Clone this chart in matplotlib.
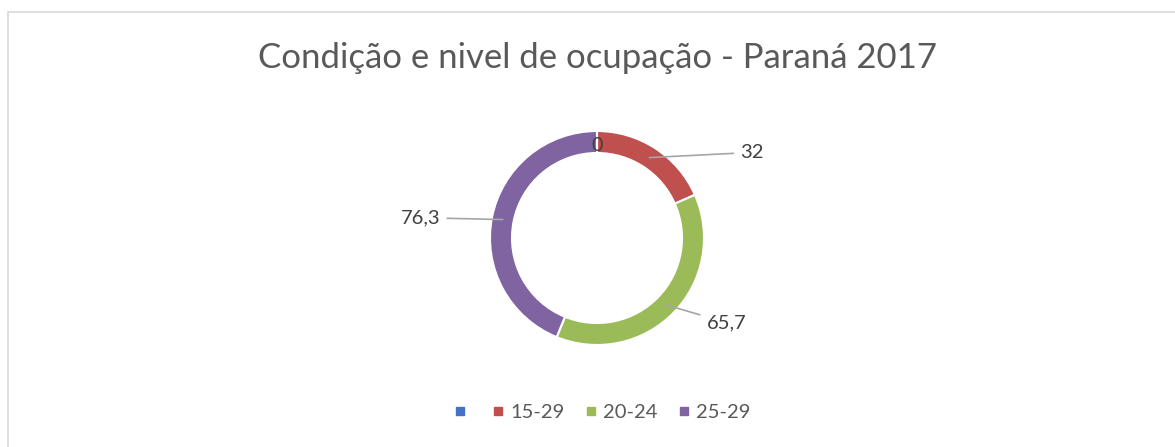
import matplotlib.pyplot as plt
import numpy as np
from matplotlib.lines import Line2D
from matplotlib.patches import Rectangle

# data
categories = ["", "15-29", "20-24", "25-29"]
values = [0, 32, 65.7, 76.3]
value_labels = ["0", "32", "65,7", "76,3"]
colors = ["#4472C4", "#C0504D", "#9BBB59", "#8064A2"]
title = "Condição e nivel de ocupação - Paraná 2017"

# label text offsets (data units, relative to ring centre), None = on the ring
label_pos = [None, (1.45, 0.80), (1.21, -0.79), (-1.65, 0.19)]

W, H = 1175, 447
fig = plt.figure(figsize=(W / 100, H / 100), dpi=100)
plt.rcParams["font.family"] = ["Lato", "DejaVu Sans"]
text_color = "#595959"

# chart frame (cropped at right/bottom)
fig.patches.append(Rectangle((8 / W, -0.1), 1.2, 1 - 12 / H + 0.1, transform=fig.transFigure,
                             fill=False, edgecolor="#d9d9d9", linewidth=1.2))

cx, cy, R = 597, H - 238, 107
ax = fig.add_axes([(cx - R) / W, (cy - R) / H, 2 * R / W, 2 * R / H])

ring = 22 / R
wedges, _ = ax.pie(values, colors=colors, startangle=90, counterclock=False, radius=1,
                   wedgeprops=dict(width=ring, edgecolor="white", linewidth=1.5))
ax.set_xlim(-1, 1)
ax.set_ylim(-1, 1)
ax.set_aspect("equal")
ax.axis("off")

rmid = 1 - ring / 2
for w, lab, pos in zip(wedges, value_labels, label_pos):
    ang = np.deg2rad((w.theta1 + w.theta2) / 2)
    x, y = rmid * np.cos(ang), rmid * np.sin(ang)
    if pos is None:
        ax.text(x, y - 0.03, lab, ha="center", va="center", fontsize=14, color="#404040")
    else:
        ax.annotate(lab, xy=(x, y), xytext=pos, ha="center", va="center", fontsize=14.5,
                    color="#404040", annotation_clip=False,
                    arrowprops=dict(arrowstyle="-", color="#a6a6a6", lw=1.2, shrinkA=3, shrinkB=0))

fig.text(598 / W, 1 - 58 / H, title, ha="center", va="center", fontsize=25, color=text_color)

handles = [Line2D([], [], marker="s", linestyle="none", markersize=6, color=c) for c in colors]
fig.legend(handles, categories, loc="center", bbox_to_anchor=(602 / W, 1 - 412 / H), ncol=4,
           frameon=False, fontsize=14.5, handlelength=0.6, handletextpad=0.3, columnspacing=1.0,
           labelcolor=text_color)

fig.savefig("out.png", dpi=100)
